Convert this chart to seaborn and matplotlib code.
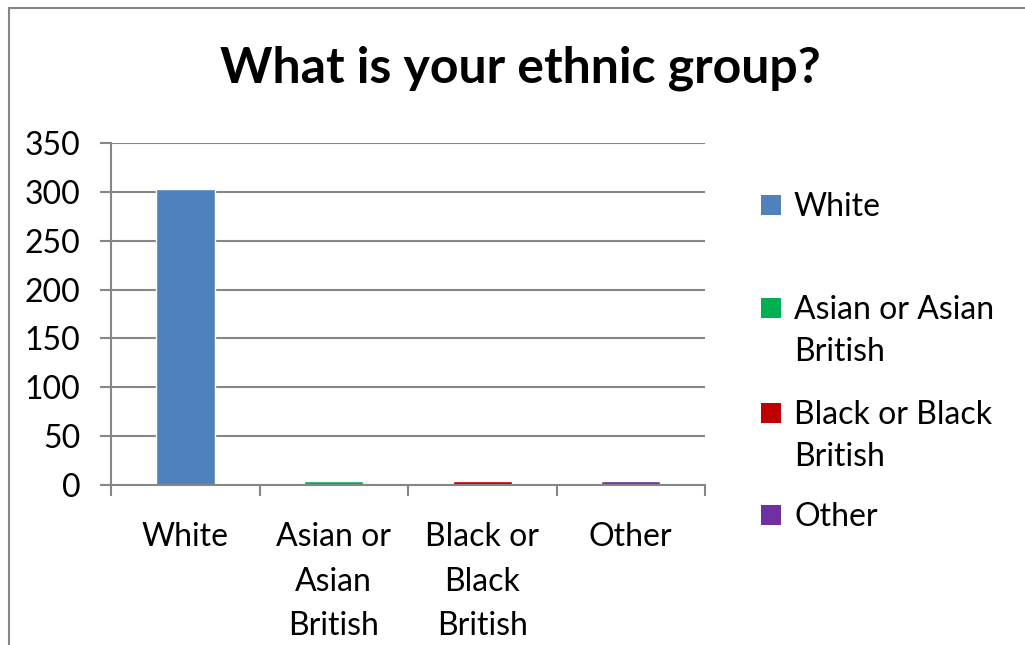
import matplotlib
matplotlib.use("Agg")
import matplotlib.pyplot as plt
from matplotlib.patches import Rectangle
import seaborn as sns
import pandas as pd

# Survey responses
categories = ["White", "Asian or Asian British", "Black or Black British", "Other"]
counts = [303, 4, 4, 4]
axis_labels = ["White", "Asian or\nAsian\nBritish", "Black or\nBlack\nBritish", "Other"]
legend_labels = ["White", "Asian or Asian\nBritish", "Black or Black\nBritish", "Other"]
colors = ["#4F81BD", "#00B050", "#C00000", "#7030A0"]
y_ticks = [0, 50, 100, 150, 200, 250, 300, 350]

sns.set_theme(style="white")
plt.rcParams["font.family"] = ["Lato", "DejaVu Sans"]

GRAY = "#868686"
FS = 23

df = pd.DataFrame({"group": categories, "count": counts})

fig = plt.figure(figsize=(10.25, 6.45), dpi=100)
ax = fig.add_axes([111 / 1025, 1 - 485 / 645, (705 - 111) / 1025, (485 - 143) / 645])

sns.barplot(data=df, x="group", y="count", hue="group", palette=colors,
            width=0.395, dodge=False, legend=False, ax=ax, saturation=1)

ax.set_ylim(0, 350)
ax.set_xlim(-0.5, len(categories) - 0.5)
ax.set_yticks(y_ticks)
ax.set_yticklabels([str(v) for v in y_ticks], fontsize=FS, color="black")
ax.set_xticks(range(len(categories)))
ax.set_xticklabels(axis_labels, fontsize=FS, color="black", linespacing=1.6)
ax.set_xlabel("")
ax.set_ylabel("")

# Horizontal gridlines
for v in y_ticks[1:]:
    ax.axhline(v, color=GRAY, lw=1.5, zorder=0)

for side in ["top", "right"]:
    ax.spines[side].set_visible(False)
for side in ["left", "bottom"]:
    ax.spines[side].set_color(GRAY)
    ax.spines[side].set_linewidth(1.5)

ax.tick_params(axis="y", which="major", direction="out", length=8, width=1.5,
               color=GRAY, pad=14, left=True)
ax.tick_params(axis="x", which="major", length=0, pad=27)
# Tick marks on the category boundaries
ax.set_xticks([i - 0.5 for i in range(len(categories) + 1)], minor=True)
ax.tick_params(axis="x", which="minor", direction="out", length=8, width=1.5,
               color=GRAY, bottom=True)

fig.text(520 / 1025, 1 - 68 / 645, "What is your ethnic group?", fontsize=36,
         fontweight="bold", ha="center", va="center", color="black")

# Legend entries
legend_rows = [205, 308, 413, 515]
for lab, col, yc in zip(legend_labels, colors, legend_rows):
    fig.patches.append(Rectangle((761 / 1025, 1 - (yc + 10) / 645), 20 / 1025, 20 / 645,
                                 transform=fig.transFigure, facecolor=col,
                                 edgecolor="none"))
    fig.text(794 / 1025, 1 - (yc - 13) / 645, lab, fontsize=FS, ha="left",
             va="top", color="black", linespacing=1.5)

# Chart area border
fig.patches.append(Rectangle((9 / 1025, -0.1), 1.2, 1 - 8 / 645 + 0.1,
                             transform=fig.transFigure, facecolor="none",
                             edgecolor=GRAY, lw=1.5))

fig.savefig("out.png", dpi=100)
